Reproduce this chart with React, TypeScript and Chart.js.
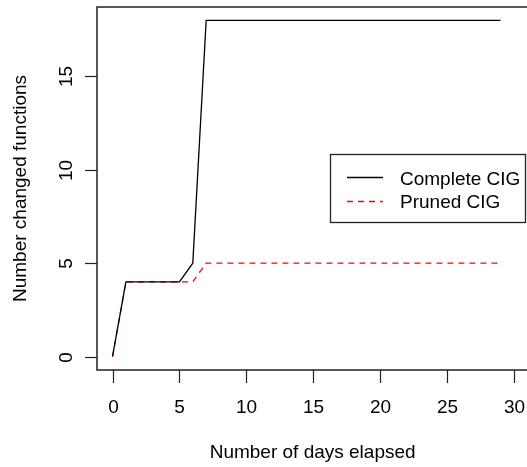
import React, { useEffect, useRef } from "react";
import { Chart, registerables } from "chart.js";

Chart.register(...registerables);

const days = [0,1,2,3,4,5,6,7,8,9,10,11,12,13,14,15,16,17,18,19,20,21,22,23,24,25,26,27,28,29];
const completeCIG = [0,4,4,4,4,4,5,18,18,18,18,18,18,18,18,18,18,18,18,18,18,18,18,18,18,18,18,18,18,18];
const prunedCIG = [0,4,4,4,4,4,4,5,5,5,5,5,5,5,5,5,5,5,5,5,5,5,5,5,5,5,5,5,5,5];
const xTicks = [0, 5, 10, 15, 20, 25, 30];
const yTicks = [0, 5, 10, 15];
const seriesNames = ["Complete CIG", "Pruned CIG"];
const xTitle = "Number of days elapsed";
const yTitle = "Number changed functions";

const FONT = '19px "Liberation Sans", Arial, Helvetica, sans-serif';

const rAxesPlugin = {
  id: "rAxes",
  afterDraw(chart: any) {
    const { ctx, chartArea, scales } = chart;
    const xs = scales.x;
    const ys = scales.y;
    const { left, top, bottom } = chartArea;
    ctx.save();
    // box
    ctx.strokeStyle = "#222";
    ctx.lineWidth = 1.5;
    ctx.beginPath();
    ctx.moveTo(chart.width + 5, top);
    ctx.lineTo(left, top);
    ctx.lineTo(left, bottom);
    ctx.lineTo(chart.width + 5, bottom);
    ctx.stroke();

    ctx.lineWidth = 1.2;
    ctx.fillStyle = "#000";
    ctx.font = FONT;
    // x ticks
    ctx.textAlign = "center";
    ctx.textBaseline = "alphabetic";
    xTicks.forEach((t) => {
      const px = Math.round(xs.getPixelForValue(t)) + 0.5;
      ctx.beginPath();
      ctx.moveTo(px, bottom);
      ctx.lineTo(px, bottom + 13);
      ctx.stroke();
      ctx.fillText(String(t), px, 413);
    });
    // y ticks
    yTicks.forEach((t) => {
      const py = Math.round(ys.getPixelForValue(t)) + 0.5;
      ctx.beginPath();
      ctx.moveTo(left, py);
      ctx.lineTo(left - 12, py);
      ctx.stroke();
      ctx.save();
      ctx.translate(72, py);
      ctx.rotate(-Math.PI / 2);
      ctx.textAlign = "center";
      ctx.fillText(String(t), 0, 0);
      ctx.restore();
    });
    // titles
    ctx.textAlign = "center";
    ctx.fillText(xTitle, (left + xs.getPixelForValue(31.0)) / 2 + 0.5, 458);
    ctx.save();
    ctx.translate(26, (top + bottom) / 2);
    ctx.rotate(-Math.PI / 2);
    ctx.fillText(yTitle, 0, 0);
    ctx.restore();

    // legend
    ctx.strokeStyle = "#222";
    ctx.lineWidth = 1.3;
    ctx.strokeRect(330.5, 154.5, 195, 68);
    const ds = chart.data.datasets;
    const rows = [177.5, 201.5];
    const baselines = [185, 208];
    ds.forEach((d: any, i: number) => {
      ctx.strokeStyle = d.borderColor;
      ctx.lineWidth = d.borderWidth;
      ctx.setLineDash(d.borderDash || []);
      ctx.beginPath();
      ctx.moveTo(347, rows[i]);
      ctx.lineTo(383, rows[i]);
      ctx.stroke();
      ctx.setLineDash([]);
      ctx.fillStyle = "#000";
      ctx.textAlign = "left";
      ctx.fillText(d.label, 400, baselines[i]);
    });
    ctx.restore();
  },
};

export default function App() {
  const ref = useRef<HTMLCanvasElement>(null);
  useEffect(() => {
    if (!ref.current) return;
    const chart = new Chart(ref.current, {
      type: "line",
      data: {
        datasets: [
          {
            label: seriesNames[0],
            data: days.map((d, i) => ({ x: d, y: completeCIG[i] })),
            borderColor: "#000000",
            borderWidth: 1.3,
            pointRadius: 0,
            tension: 0,
            fill: false,
          },
          {
            label: seriesNames[1],
            data: days.map((d, i) => ({ x: d, y: prunedCIG[i] })),
            borderColor: "#ff0000",
            borderWidth: 1.3,
            borderDash: [6, 5],
            pointRadius: 0,
            tension: 0,
            fill: false,
          },
        ],
      },
      options: {
        responsive: false,
        animation: false,
        layout: { padding: { left: 97, top: 7, right: 0, bottom: 97 } },
        plugins: { legend: { display: false }, tooltip: { enabled: false } },
        scales: {
          x: { type: "linear", min: -1.16, max: 30.98, display: false },
          y: { type: "linear", min: -0.72, max: 18.72, display: false },
        },
      },
      plugins: [rAxesPlugin],
    });
    return () => chart.destroy();
  }, []);
  return (
    <div style={{ position: "fixed", left: 0, top: 0, width: 527, height: 467, background: "#fff" }}>
      <canvas ref={ref} width={527} height={467} />
    </div>
  );
}
